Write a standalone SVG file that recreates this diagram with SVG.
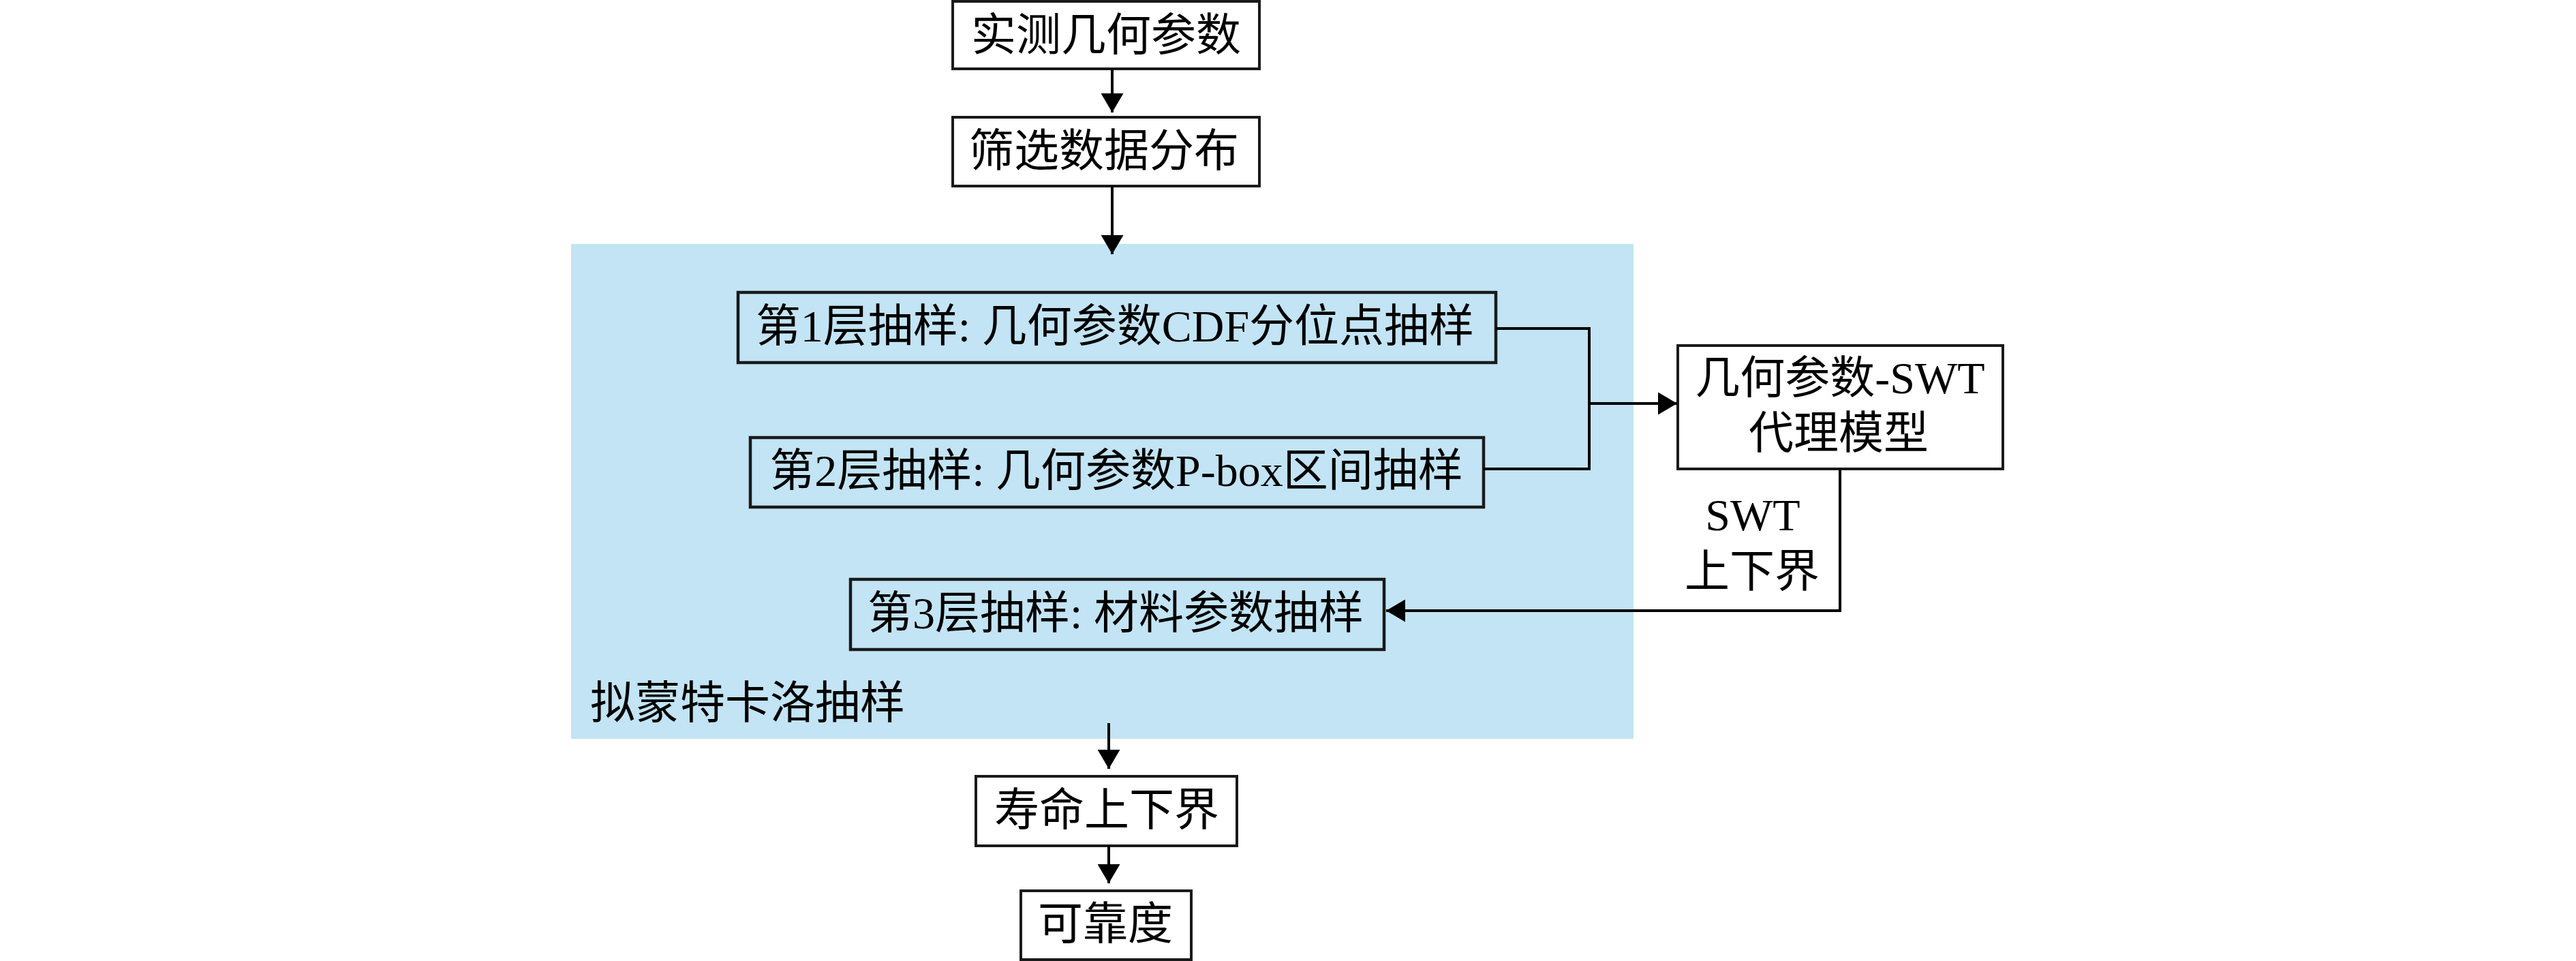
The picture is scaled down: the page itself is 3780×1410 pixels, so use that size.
<svg xmlns="http://www.w3.org/2000/svg" width="3780" height="1410" viewBox="0 0 3780 1410">
<style>
.box{fill:#ffffff;stroke:#1a1a1a;stroke-width:4}
.ibox{fill:#C2E4F4;stroke:#1a1a1a;stroke-width:4.5}
.t{font-family:"Liberation Serif","Noto Sans CJK SC",serif;font-size:66px;fill:#000;text-anchor:middle}
.c{fill:none;stroke:#000;stroke-width:4}
</style>
<defs>
<marker id="ah" viewBox="0 0 28 33" refX="28" refY="16.5" markerWidth="28" markerHeight="33" markerUnits="userSpaceOnUse" orient="auto">
<path d="M0,0 L28,16.5 L0,33 Z" fill="#000"/>
</marker>
</defs>
<rect width="3780" height="1410" fill="#ffffff"/>
<g id="region">
<rect x="838" y="358" width="1559" height="726" fill="#C2E4F4"/>
<text class="t" x="866" y="1054" style="text-anchor:start">拟蒙特卡洛抽样</text>
</g>
<g id="n1"><rect class="box" x="1398" y="2" width="450" height="99"/><text class="t" x="1623" y="74">实测几何参数</text></g>
<g id="n2"><rect class="box" x="1398" y="172" width="450" height="101"/><text class="t" x="1620" y="244">筛选数据分布</text></g>
<g id="l1"><rect class="ibox" x="1083" y="429" width="1112" height="103"/><text class="t" x="1636" y="501">第1层抽样: 几何参数CDF分位点抽样</text></g>
<g id="l2"><rect class="ibox" x="1101" y="642" width="1076" height="102"/><text class="t" x="1638" y="713">第2层抽样: 几何参数P-box区间抽样</text></g>
<g id="l3"><rect class="ibox" x="1248" y="850" width="783" height="103"/><text class="t" x="1637" y="922">第3层抽样: 材料参数抽样</text></g>
<g id="swt"><rect class="box" x="2462" y="507" width="477" height="181"/><text class="t" x="2700" y="577">几何参数-SWT</text><text class="t" x="2698" y="658">代理模型</text></g>
<g id="life"><rect class="box" x="1432" y="1139" width="383" height="102"/><text class="t" x="1624" y="1211">寿命上下界</text></g>
<g id="rel"><rect class="box" x="1498" y="1307" width="250" height="101"/><text class="t" x="1622" y="1378">可靠度</text></g>
<g id="connectors">
<line class="c" x1="1632" y1="101" x2="1632" y2="165" marker-end="url(#ah)"/>
<line class="c" x1="1632" y1="273" x2="1632" y2="373" marker-end="url(#ah)"/>
<polyline class="c" points="2195,482 2332,482 2332,688 2177,688"/>
<line class="c" x1="2332" y1="592" x2="2461" y2="592" marker-end="url(#ah)"/>
<polyline class="c" points="2700,688 2700,896 2034,896" marker-end="url(#ah)"/>
<line class="c" x1="1627" y1="1061" x2="1627" y2="1128" marker-end="url(#ah)"/>
<line class="c" x1="1627" y1="1241" x2="1627" y2="1296" marker-end="url(#ah)"/>
<text class="t" x="2572" y="778">SWT</text>
<text class="t" x="2571" y="861">上下界</text>
</g>
</svg>
